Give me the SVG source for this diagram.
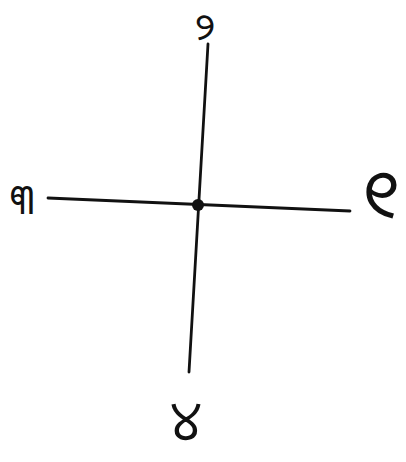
<svg xmlns="http://www.w3.org/2000/svg" width="406" height="462" viewBox="0 0 406 462">
<style>
.ax{stroke:#111;stroke-width:2.8;stroke-linecap:round;fill:none}
.lb{font-family:"Noto Sans Oriya","Noto Sans",sans-serif;fill:#111;text-anchor:middle}
</style>
<rect width="406" height="462" fill="#fff"/>
<g id="connectors">
<line class="ax" x1="208" y1="44" x2="189" y2="372"/>
<line class="ax" x1="48" y1="198" x2="350" y2="211"/>
</g>
<g id="center"><circle cx="198" cy="205" r="6" fill="#111"/></g>
<g id="n1"><text class="lb" x="381" y="218" font-size="68">୧</text></g>
<g id="n2"><text class="lb" x="205" y="40" font-size="37">୨</text></g>
<g id="n3"><text class="lb" x="22" y="214" font-size="42">୩</text></g>
<g id="n4"><text class="lb" x="186" y="440" font-size="54">୪</text></g>
</svg>
